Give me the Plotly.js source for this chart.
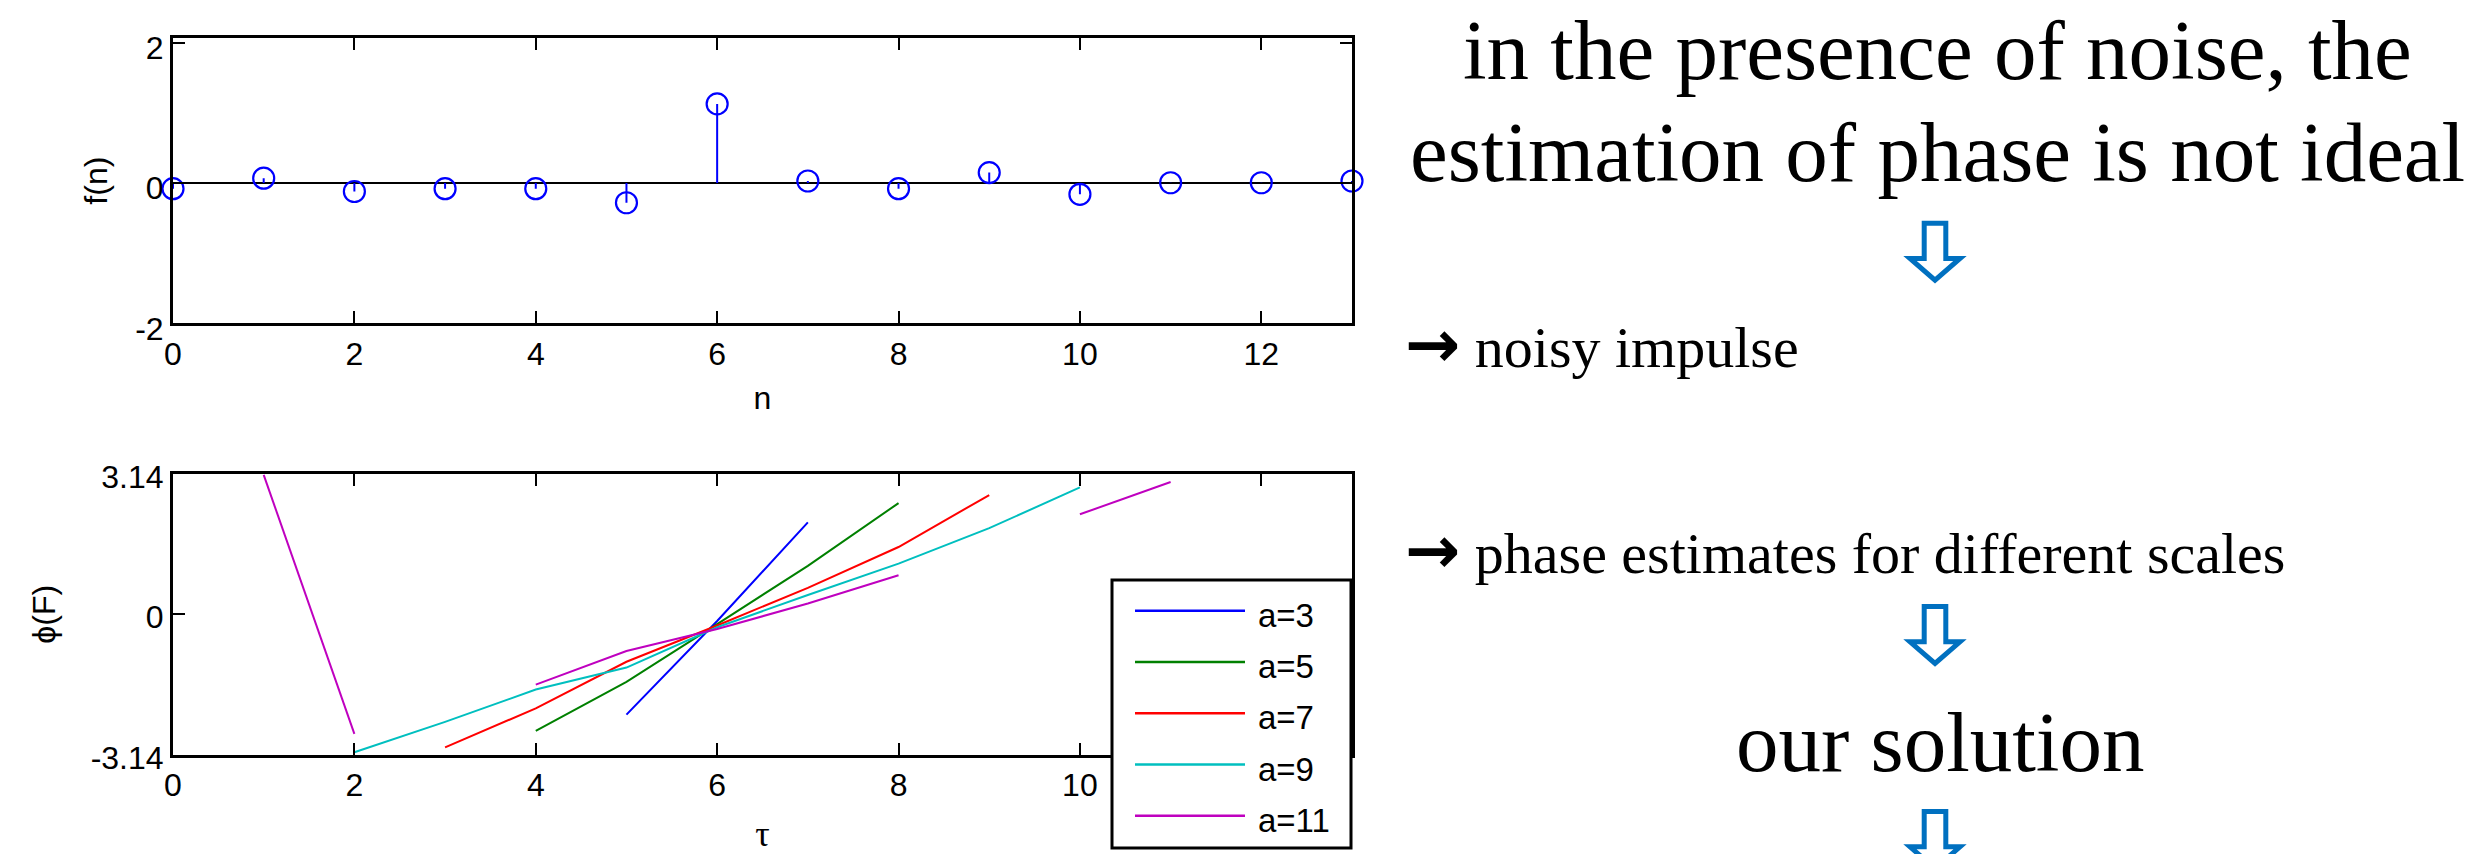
<!DOCTYPE html>
<html>
<head>
<meta charset="utf-8">
<script src="https://cdn.plot.ly/plotly-3.0.1.min.js"></script>
<style>
html,body{margin:0;padding:0;background:#fff;}
#chart{width:2473px;height:854px;}
</style>
</head>
<body>
<div id="chart"></div>
<script>
// ---------------- data ----------------
const n = [0,1,2,3,4,5,6,7,8,9,10,11,12,13];
const fn = [-0.08, 0.07, -0.12, -0.08, -0.08, -0.28, 1.13, 0.03, -0.08, 0.15, -0.16, 0.005, 0.005, 0.03];

const tau = [0,1,2,3,4,5,6,7,8,9,10,11,12,13];
const scaleNames = ['a=3','a=5','a=7','a=9','a=11'];
const phiA3  = [null,null,null,null,null,-2.24,-0.15,2.05,null,null,null,null,null,null];
const phiA5  = [null,null,null,null,-2.60,-1.51,-0.22,1.08,2.48,null,null,null,null,null];
const phiA7  = [null,null,null,-2.97,-2.10,-1.06,-0.25,0.59,1.50,2.66,null,null,null,null];
const phiA9  = [null,null,-3.08,-2.40,-1.68,-1.19,-0.29,0.43,1.13,1.92,2.83,null,null,null];
const phiA11 = [null,3.11,-2.67,null,-1.57,-0.82,-0.33,0.24,0.87,null,2.23,2.95,null,null];
const phiSeries = [phiA3, phiA5, phiA7, phiA9, phiA11];

const xTickVals = [0,2,4,6,8,10,12];
const xTickText = ['0','2','4','6','8','10','12'];
const fTickVals = [-2,0,2];
const fTickText = ['-2','0','2'];
const phiTickVals = [-3.14,0,3.14];
const phiTickText = ['-3.14','0','3.14'];

const headline1 = 'in the presence of noise, the';
const headline2 = 'estimation of phase is not ideal';
const note1 = 'noisy impulse';
const note2 = 'phase estimates for different scales';
const solution = 'our solution';

// ---------------- styles ----------------
const seriesColors = ['#0000ff','#008000','#ff0000','#00bfbf','#bf00bf'];
const W = 2473, H = 854;
const L = 173, R = 1352, T = 38, B = 755;   // plot area in px
const PW = R - L, PH = B - T;
const px2x = p => (p - L) / PW;
const py2y = p => (B - p) / PH;

const sans = 'Liberation Sans, Arial, sans-serif';
const serif = 'Liberation Serif, Times New Roman, serif';
const arrowSpan = '<span style="font-family:DejaVu Sans;font-weight:bold;font-size:66px">\u2192</span> ';

// ---------------- traces ----------------
const stemX = [], stemY = [];
n.forEach((v, i) => { stemX.push(v, v, null); stemY.push(0, fn[i], null); });

const traces = [
  {x: stemX, y: stemY, xaxis: 'x', yaxis: 'y', mode: 'lines', type: 'scatter',
   line: {color: '#0000ff', width: 2}, showlegend: false, hoverinfo: 'skip'},
  {x: n, y: fn, xaxis: 'x', yaxis: 'y', mode: 'markers', type: 'scatter', cliponaxis: false,
   marker: {symbol: 'circle-open', size: 21, color: '#0000ff', line: {width: 2.2, color: '#0000ff'}},
   showlegend: false}
];
phiSeries.forEach((s, i) => {
  traces.push({x: tau, y: s, xaxis: 'x2', yaxis: 'y2', mode: 'lines', type: 'scatter',
    name: scaleNames[i], connectgaps: false, showlegend: false,
    line: {color: seriesColors[i], width: 2}});
});

// ---------------- axes ----------------
const axCommon = {
  ticks: 'inside', ticklen: 12, tickwidth: 2, tickcolor: '#000',
  showline: true, linewidth: 3, linecolor: '#000', mirror: 'ticks',
  showgrid: false, zeroline: false, automargin: false,
  tickfont: {family: sans, size: 32, color: '#000'}
};
const topDomain = [py2y(323.3), 1];
const botDomain = [0, py2y(473.5)];

const layout = {
  width: W, height: H,
  margin: {l: L, r: W - R, t: T, b: H - B, pad: 0},
  paper_bgcolor: '#fff', plot_bgcolor: '#fff',
  font: {family: sans, size: 32, color: '#000'},
  showlegend: false,
  xaxis: Object.assign({}, axCommon, {anchor: 'y', domain: [0, 1], range: [0, 13],
    tickvals: xTickVals, ticktext: xTickText, ticklabelstandoff: 0,
    title: {text: 'n', font: {family: sans, size: 32}, standoff: 16}}),
  yaxis: Object.assign({}, axCommon, {anchor: 'x', domain: topDomain, range: [-2, 2.07],
    tickvals: fTickVals, ticktext: fTickText,
    zeroline: true, zerolinecolor: '#000', zerolinewidth: 2, ticklabelshift: 5,
    title: {text: 'f(n)', font: {family: sans, size: 32}, standoff: 18}}),
  xaxis2: Object.assign({}, axCommon, {anchor: 'y2', domain: [0, 1], range: [0, 13],
    tickvals: xTickVals, ticktext: xTickText.map(t => t === '12' ? '' : t), ticklabelstandoff: 0,
    title: {text: '\u03c4', font: {family: serif, size: 36}, standoff: 27}}),
  yaxis2: Object.assign({}, axCommon, {anchor: 'x2', domain: botDomain, range: [-3.14, 3.14],
    tickvals: phiTickVals, ticktext: phiTickText, ticklabelshift: 3,
    title: {text: '\u03d5(F)', font: {family: sans, size: 32}, standoff: 26}}),
  annotations: [],
  shapes: []
};

// right-hand text
[[headline1, 1938, 49.6], [headline2, 1938, 152.3], [solution, 1940, 742.3]].forEach(([t, x, y]) => {
  layout.annotations.push({text: t, x: px2x(x), y: py2y(y), xref: 'paper', yref: 'paper',
    xanchor: 'center', yanchor: 'middle', showarrow: false,
    font: {family: serif, size: 85, color: '#000'}});
});
[[note1, 344.4], [note2, 550.4]].forEach(([t, y]) => {
  layout.annotations.push({text: arrowSpan + t, x: px2x(1403), y: py2y(y), xref: 'paper', yref: 'paper',
    xanchor: 'left', yanchor: 'middle', showarrow: false,
    font: {family: serif, size: 58, color: '#000'}});
});

// legend box (drawn over the lower axes, like the reference)
const legBox = {x0: 1112, x1: 1351, y0: 580, y1: 848};
layout.shapes.push({type: 'rect', xref: 'paper', yref: 'paper', layer: 'above',
  x0: px2x(legBox.x0), x1: px2x(legBox.x1), y0: py2y(legBox.y0), y1: py2y(legBox.y1),
  line: {color: '#000', width: 3}, fillcolor: '#fff'});
scaleNames.forEach((name, i) => {
  const yy = 610.7 + i * 51.25;
  layout.shapes.push({type: 'line', xref: 'paper', yref: 'paper', layer: 'above',
    x0: px2x(1135), x1: px2x(1245), y0: py2y(yy), y1: py2y(yy),
    line: {color: seriesColors[i], width: 2.5}});
  layout.annotations.push({text: name, x: px2x(1256), y: py2y(yy + 4.7), xref: 'paper', yref: 'paper',
    xanchor: 'left', yanchor: 'middle', showarrow: false,
    font: {family: sans, size: 33, color: '#000'}});
});

// hollow down arrows (decoration)
function arrowPath(top) {
  const cx = 1935;
  const pts = [[cx - 10.8, top + 2.5], [cx + 10.8, top + 2.5], [cx + 10.8, top + 37.8],
               [cx + 25, top + 37.8], [cx, top + 59.5], [cx - 25, top + 37.8], [cx - 10.8, top + 37.8]];
  return 'M' + pts.map(p => px2x(p[0]).toFixed(5) + ',' + py2y(p[1]).toFixed(5)).join('L') + 'Z';
}
[220.7, 604, 809].forEach(top => {
  layout.shapes.push({type: 'path', xref: 'paper', yref: 'paper', path: arrowPath(top),
    line: {color: 'rgb(0,112,192)', width: 5}, fillcolor: '#fff', layer: 'above'});
});

Plotly.newPlot('chart', traces, layout, {displayModeBar: false, staticPlot: true});
</script>
</body>
</html>
